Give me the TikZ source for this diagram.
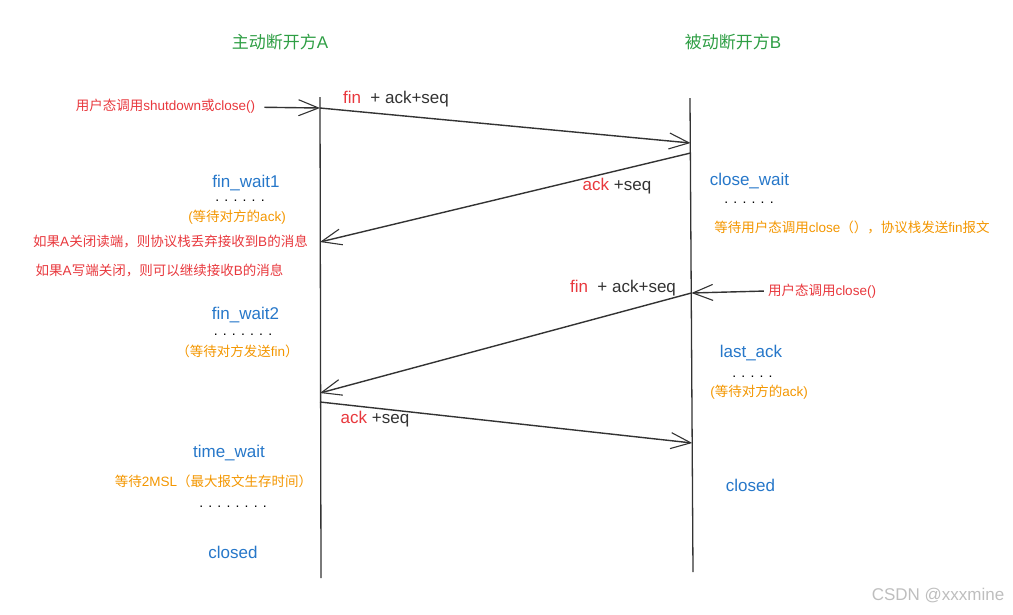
\documentclass[tikz,border=0pt]{standalone}
\usepackage{fontspec}
\setmainfont{Liberation Sans}
\newfontfamily\cjk{Noto Sans CJK SC}
\usetikzlibrary{arrows.meta,positioning}
\definecolor{titlegreen}{RGB}{46,158,68}
\definecolor{stateblue}{RGB}{38,119,201}
\definecolor{notered}{RGB}{232,56,61}
\definecolor{waitorange}{RGB}{243,150,0}
\definecolor{linegray}{RGB}{51,51,51}
\definecolor{markgray}{RGB}{190,190,190}
\newcommand{\zhtext}[1]{{\cjk #1}}
\tikzset{
 life/.style={draw=linegray,line width=1.3pt},
 msg/.style={draw=linegray,line width=1.4pt,-{Straight Barb[length=20pt,width=16pt,line width=1.1pt]}},
 titlelbl/.style={text=titlegreen,inner sep=0pt,font=\fontsize{17}{20}\selectfont},
 statelbl/.style={text=stateblue,inner sep=0pt,font=\fontsize{17}{20}\selectfont},
 pktlbl/.style={text=linegray,inner sep=0pt,font=\fontsize{17}{20}\selectfont},
 rednote/.style={text=notered,inner sep=2pt,font=\fontsize{13.5}{16}\selectfont},
 waitnote/.style={text=waitorange,inner sep=0pt,font=\fontsize{13.5}{16}\selectfont},
 dotsline/.style={text=black,inner sep=0pt,font=\fontsize{14}{16}\selectfont},
}
\begin{document}
\begin{tikzpicture}[x=1pt,y=-1pt]
 \useasboundingbox (0,0) rectangle (1013,614);
 % titles
 \node[titlelbl] (titleA) at (280,42) {\zhtext{主动断开方}A};
 \node[titlelbl] (titleB) at (733,42) {\zhtext{被动断开方}B};

 % lifelines
 \coordinate (atop) at (320,97);
 \coordinate (abot) at (321,578);
 \coordinate (btop) at (690,98);
 \coordinate (bbot) at (693,572);
 \draw[life] (atop) -- (abot);
 \draw[life] (btop) -- (bbot);

 % message ends
 \coordinate (m1s) at (320,108);
 \coordinate (m1e) at (690.5,143);
 \coordinate (m2s) at (690.6,153);
 \coordinate (m2e) at (320,242);
 \coordinate (m3s) at (691.4,293);
 \coordinate (m3e) at (320,393);
 \coordinate (m4s) at (320,402);
 \coordinate (m4e) at (692.2,443);

 % messages
 \draw[msg] (m1s) -- (m1e);
 \draw[msg] (m2s) -- (m2e);
 \draw[msg] (m3s) -- (m3e);
 \draw[msg] (m4s) -- (m4e);

 % packet labels
 \node[pktlbl] (pkt1) at (396,99) {\textcolor{notered}{fin}\ \ + ack+seq};
 \node[pktlbl] (pkt2) at (617,186) {\textcolor{notered}{ack} +seq};
 \node[pktlbl] (pkt3) at (623,288) {\textcolor{notered}{fin}\ \ + ack+seq};
 \node[pktlbl] (pkt4) at (375,419) {\textcolor{notered}{ack} +seq};

 % user calls
 \node[rednote] (usrA) at (165.5,106) {\zhtext{用户态调用}shutdown\zhtext{或}close()};
 \node[rednote] (usrB) at (822,291) {\zhtext{用户态调用}close()};
 \draw[msg,shorten <=7pt] (usrA) -- (m1s);
 \draw[msg,shorten <=2pt] (usrB.west) -- (m3s);

 % side A states
 \node[statelbl] (fw1) at (246,183) {fin\_wait1};
 \node[dotsline] (fw1dots) at (240,201) {. . . . . .};
 \node[waitnote] (fw1note) at (237,217) {(\zhtext{等待对方的}ack)};
 \node[rednote] (readnote) at (170.5,241) {\zhtext{如果}A\zhtext{关闭读端，则协议栈丢弃接收到}B\zhtext{的消息}};
 \node[rednote] (writenote) at (159.5,270) {\zhtext{如果}A\zhtext{写端关闭，则可以继续接收}B\zhtext{的消息}};
 \node[statelbl] (fw2) at (245.5,315) {fin\_wait2};
 \node[dotsline] (fw2dots) at (243,335) {. . . . . . .};
 \node[waitnote] (fw2note) at (237.5,351) {\zhtext{（等待对方发送}fin\zhtext{）}};
 \node[statelbl] (tw) at (229,453) {time\_wait};
 \node[waitnote] (twnote) at (213.5,481) {\zhtext{等待}2MSL\zhtext{（最大报文生存时间）}};
 \node[dotsline] (twdots) at (233,507) {. . . . . . . .};
 \node[statelbl] (closedA) at (233,552) {closed};

 % side B states
 \node[statelbl] (cw) at (749.5,181) {close\_wait};
 \node[dotsline] (cwdots) at (749,203) {. . . . . .};
 \node[waitnote] (cwnote) at (852,227) {\zhtext{等待用户态调用}close\zhtext{（），协议栈发送}fin\zhtext{报文}};
 \node[statelbl] (la) at (751,353) {last\_ack};
 \node[dotsline] (ladots) at (752.5,377) {. . . . .};
 \node[waitnote] (lanote) at (759,392) {(\zhtext{等待对方的}ack)};
 \node[statelbl] (closedB) at (750.5,485) {closed};

 % watermark
 \node[text=markgray,inner sep=0pt,font=\fontsize{17}{20}\selectfont] (mark) at (938,596) {CSDN @xxxmine};
\end{tikzpicture}
\end{document}
